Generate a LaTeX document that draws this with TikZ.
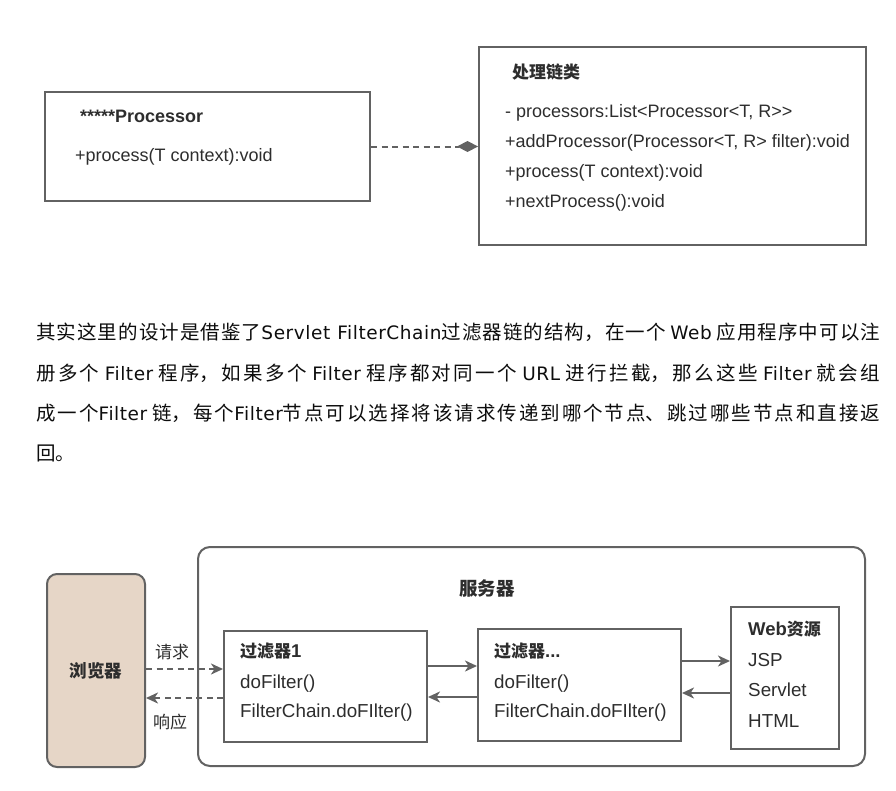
\documentclass[tikz,border=0pt]{standalone}
\usepackage{fontspec}
\setmainfont{Liberation Sans}
\newfontfamily\cjk{Noto Sans CJK SC}
\newfontfamily\paralat[LetterSpace=3]{DejaVu Sans}
\usetikzlibrary{arrows.meta}

\definecolor{linegray}{RGB}{98,98,98}
\definecolor{textgray}{RGB}{45,45,45}
\definecolor{browserfill}{RGB}{230,214,199}

\newcommand{\zh}[1]{{\cjk\fontsize{17}{20}\selectfont #1}}
\newcommand{\en}[1]{{\paralat\fontsize{18.5}{22}\selectfont #1}}
% one justified line of the paragraph
\newcommand{\paraline}[1]{\parbox{844pt}{\cjk\fontsize{19.5}{22}\selectfont
  \XeTeXlinebreaklocale "zh"%
  \XeTeXlinebreakskip=0pt plus 6pt minus 1pt\parfillskip=0pt\noindent #1}}

\begin{document}
\begin{tikzpicture}[x=1pt, y=-1pt,
    box/.style={draw=linegray, line width=2pt, inner sep=0pt},
    roundbox/.style={box, rounded corners=10pt},
    txt/.style={anchor=west, inner sep=0pt, text=textgray,
                font=\fontsize{18}{21}\selectfont},
    title/.style={txt, font=\fontsize{18}{21}\selectfont\bfseries},
    ftxt/.style={txt, font=\fontsize{18.8}{21}\selectfont},
    ftitle/.style={txt, font=\fontsize{18.5}{21}\selectfont\bfseries},
    note/.style={inner sep=0pt, text=textgray, font=\cjk\fontsize{17}{20}\selectfont},
    para/.style={anchor=west, inner sep=0pt, text=black!95},
    link/.style={draw=linegray, line width=2pt,
                 -{Stealth[length=12pt, width=11pt, inset=3.5pt]}},
    dlink/.style={link, dash pattern=on 6pt off 4.5pt},
]
\useasboundingbox (0,0) rectangle (896,790);

% Class diagram
\node[box, minimum width=325pt, minimum height=109pt] (proc) at (207.5,146.5) {};
\node[box, minimum width=387pt, minimum height=198pt] (chain) at (672.5,146) {};

\node[title] (procname) at (80,116) {*****Processor};
\node[txt] (procop) at (75,157) {+process(T context):void};

\node[title] (chainname) at (512,72) {\zh{处理链类}};
\node[txt] (chainattr) at (505,113) {- processors:List<Processor<T, R>{}>};
\node[txt] (chainadd) at (505,143) {+addProcessor(Processor<T, R> filter):void};
\node[txt] (chainproc) at (505,173) {+process(T context):void};
\node[txt] (chainnext) at (505,203) {+nextProcess():void};

% Aggregation (dashed, diamond at the chain)
\draw[draw=linegray, line width=2pt, dash pattern=on 6pt off 4.5pt,
      -{Diamond[length=21pt, width=11pt]}]
      (proc.east) -- (chain.west |- proc.east);

% Paragraph
\node[para] (line1) at (36,332) {\paraline{其实这里的设计是借鉴了\en{Servlet FilterChain}过滤器链的结构，在一个 \en{Web} 应用程序中可以注}};
\node[para] (line2) at (36,373) {\paraline{册多个 \en{Filter} 程序，如果多个 \en{Filter} 程序都对同一个 \en{URL} 进行拦截，那么这些 \en{Filter} 就会组}};
\node[para] (line3) at (36,413) {\paraline{成一个\en{Filter} 链，每个\en{Filter}节点可以选择将该请求传递到哪个节点、跳过哪些节点和直接返}};
\node[para, font=\cjk\fontsize{19.5}{22}\selectfont] (line4) at (36,453) {回。};

% Request chain
\node[roundbox, fill=browserfill, minimum width=98pt, minimum height=193pt] (browser) at (96,670.5) {};
\node[roundbox, rounded corners=12pt, minimum width=667pt, minimum height=219pt] (server) at (531.5,656.5) {};
\node[box, minimum width=203pt, minimum height=111pt] (f1) at (325.5,686.5) {};
\node[box, minimum width=203pt, minimum height=112pt] (f2) at (579.5,685) {};
\node[box, minimum width=108pt, minimum height=142pt] (web) at (785,678) {};

\node[note, font=\cjk\fontsize{17.5}{20}\selectfont\bfseries] (browsername) at (browser) {浏览器};
\node[note, font=\cjk\fontsize{18.5}{20}\selectfont\bfseries] (servername) at (487,588) {服务器};

\node[ftitle] (f1name) at (240,651) {\zh{过滤器}1};
\node[ftxt] (f1do) at (240,684) {doFilter()};
\node[ftxt] (f1chain) at (240,713) {FilterChain.doFIlter()};

\node[ftitle] (f2name) at (494,651) {\zh{过滤器}...};
\node[ftxt] (f2do) at (494,684) {doFilter()};
\node[ftxt] (f2chain) at (494,713) {FilterChain.doFIlter()};

\node[ftitle] (webname) at (748,629) {Web\zh{资源}};
\node[ftxt] (webjsp) at (748,660) {JSP};
\node[ftxt] (webservlet) at (748,690) {Servlet};
\node[ftxt] (webhtml) at (748,721) {HTML};

% Connectors
\draw[dlink] ([yshift=1.5pt]browser.east) -- ([yshift=17.5pt]f1.west);
\draw[dlink] ([yshift=-11.5pt]f1.west) -- ([yshift=-27.5pt]browser.east);
\node[note] (reqlabel) at (172,652) {请求};
\node[note] (resplabel) at (170,722) {响应};

\draw[link] ([yshift=20.5pt]f1.east) -- ([yshift=19pt]f2.west);
\draw[link] ([yshift=-12pt]f2.west) -- ([yshift=-10.5pt]f1.east);
\draw[link] ([yshift=24pt]f2.east) -- ([yshift=17pt]web.west);
\draw[link] ([yshift=-15pt]web.west) -- ([yshift=-8pt]f2.east);

\end{tikzpicture}
\end{document}
